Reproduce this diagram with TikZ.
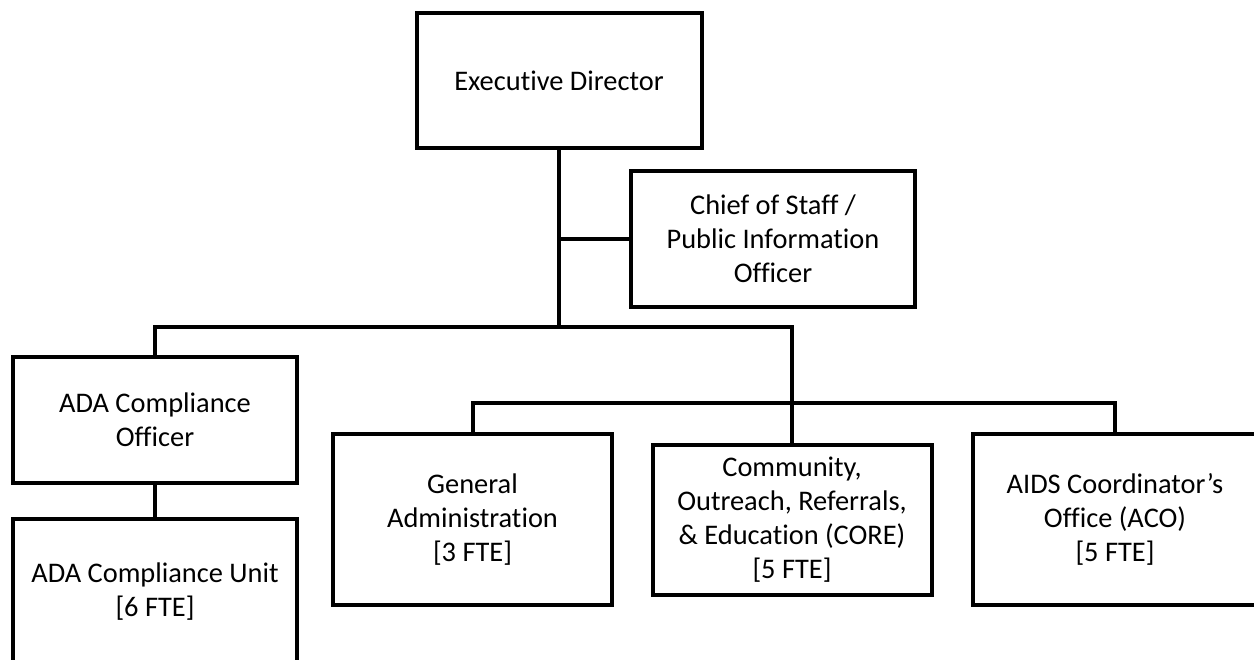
\documentclass[tikz,border=0pt]{standalone}
\usepackage{fontspec}
\setmainfont{Carlito}[Ligatures=NoCommon]
\begin{document}
\begin{tikzpicture}[x=1pt,y=-1pt,
  orgbox/.style={draw=black,line width=4pt,fill=white,inner sep=0pt,align=center,
    font=\fontsize{28.4}{34}\selectfont},
  link/.style={draw=black,line width=4pt}]
\useasboundingbox (0,0) rectangle (1254,660);
\clip (0,0) rectangle (1254,660);
\fill[white] (0,0) rectangle (1254,660);
\coordinate (bus1) at (559,327);
\coordinate (bus2) at (793,403);
\node[orgbox,minimum width=285pt,minimum height=135pt] (ed) at (559,80.5) {Executive Director};
\node[orgbox,minimum width=284pt,minimum height=136pt] (chief) at (773,239) {Chief of Staff /\\Public Information\\Officer};
\node[orgbox,minimum width=284pt,minimum height=126pt] (adao) at (155,420) {ADA Compliance\\Officer};
\node[orgbox,minimum width=284pt,minimum height=146pt] (adau) at (155,592) {ADA Compliance Unit\\{[6 FTE]}};
\node[orgbox,minimum width=279pt,minimum height=171pt] (ga) at (472.5,519.5) {General\\Administration\\{[3 FTE]}};
\node[orgbox,minimum width=279pt,minimum height=150pt] (core) at (792,520) {Community,\\Outreach, Referrals,\\\& Education (CORE)\\{[5 FTE]}};
\node[orgbox,minimum width=284pt,minimum height=171pt] (aids) at (1115,519.5) {AIDS Coordinator’s\\Office (ACO)\\{[5 FTE]}};
\draw[link] (ed.south) -- (ed.south |- bus1);
\draw[link] (ed.south |- chief.west) -- (chief.west);
\draw[link] (adao.north) |- (core.north |- bus1) -- (core.north);
\draw[link] (adao.south) -- (adau.north);
\draw[link] (ga.north) |- (aids.north |- bus2) -- (aids.north);
\end{tikzpicture}
\end{document}
